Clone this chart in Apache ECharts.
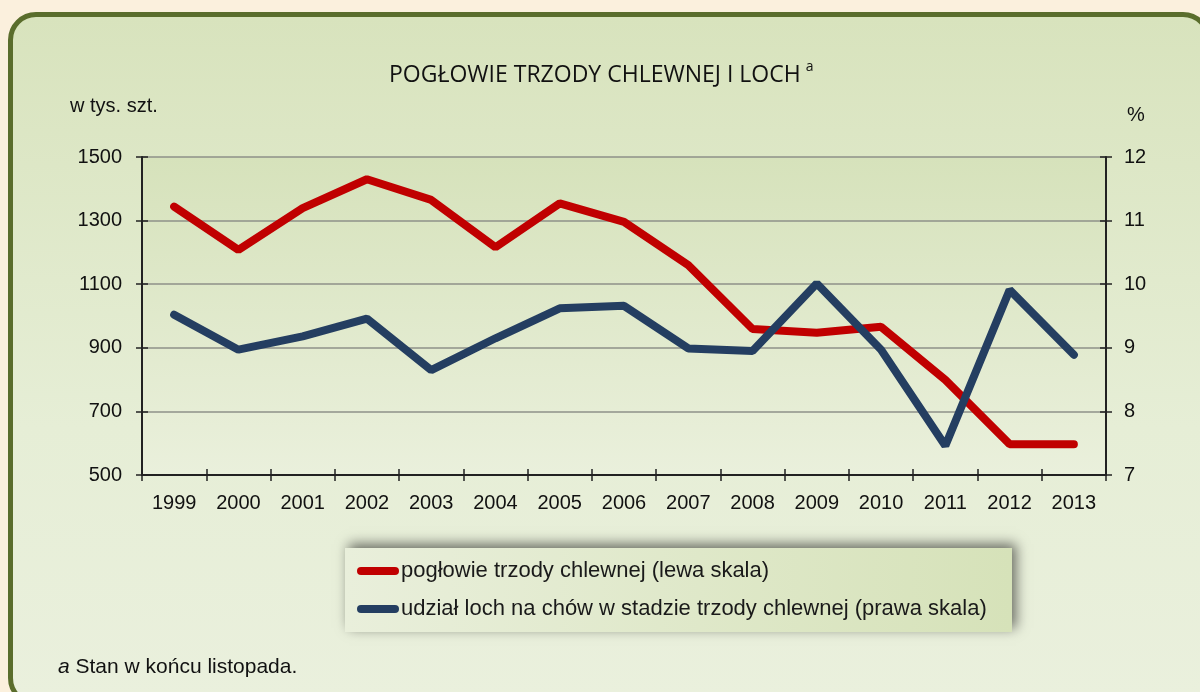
<!DOCTYPE html>
<html>
<head>
<meta charset="utf-8">
<script src="https://cdn.jsdelivr.net/npm/echarts@6/dist/echarts.min.js"></script>
<style>
  html, body { margin: 0; padding: 0; width: 1200px; height: 692px; overflow: hidden; background: #fbf0dd; }
  #panel {
    position: absolute; left: 8px; top: 12px; width: 1203px; height: 694px;
    box-sizing: border-box; border: 5px solid #5a6d2c; border-radius: 28px;
    background: linear-gradient(#d8e3bd, #e6eed6 60%, #eaf0dd);
  }
  #chart { position: absolute; left: 0; top: 0; width: 1200px; height: 692px; }
</style>
</head>
<body>
<div id="panel"></div>
<div id="chart"></div>
<script>
// lata
const years = ['1999', '2000', '2001', '2002', '2003', '2004', '2005', '2006', '2007', '2008', '2009', '2010', '2011', '2012', '2013']
// pogłowie trzody chlewnej, tys. szt. (lewa skala)
const poglowie = [1344, 1208, 1339, 1430, 1365, 1216, 1354, 1296, 1160, 959, 947, 966, 799, 597, 597]
// udział loch na chów, % (prawa skala)
const udzialLoch = [9.52, 8.97, 9.18, 9.46, 8.65, 9.15, 9.62, 9.66, 8.99, 8.95, 10.01, 8.97, 7.46, 9.91, 8.89]

const seriesNames = ['pogłowie trzody chlewnej (lewa skala)', 'udział loch na chów w stadzie trzody chlewnej (prawa skala)']

const font = 'Liberation Sans, Arial, sans-serif'
const legendIcon = 'path://M4,0 H38 A4,4 0 0 1 38,8 H4 A4,4 0 0 1 4,0 Z'

const chart = echarts.init(document.getElementById('chart'))

// oś pomocnicza - tylko kreski do środka (kreski przecinające oś)
function innerTicks(base) {
  return Object.assign({}, base, {
    axisLine: { show: false },
    axisLabel: { show: false },
    splitLine: { show: false },
    axisTick: { show: true, inside: true, interval: 0, length: 6, lineStyle: { color: '#222', width: 1.5 } }
  })
}

const yLeft = { type: 'value', position: 'left', min: 500, max: 1500, interval: 200 }
const yRight = { type: 'value', position: 'right', min: 7, max: 12, interval: 1 }
const xBase = { type: 'category', position: 'bottom', data: years, boundaryGap: true }

const labelStyle = { fontFamily: font, fontSize: 20, color: '#111' }

chart.setOption({
  animation: false,
  backgroundColor: 'transparent',
  title: {
    text: '{m|POGŁOWIE TRZODY CHLEWNEJ I LOCH} {s|a}',
    left: 384,
    top: 55,
    textStyle: {
      fontWeight: 'normal',
      rich: {
        m: { fontFamily: 'Open Sans', fontSize: 23, fontWeight: 'normal', color: '#111', lineHeight: 30 },
        s: { fontFamily: 'Open Sans', fontSize: 14, fontWeight: 'normal', color: '#111', verticalAlign: 'top', lineHeight: 15 }
      }
    }
  },
  grid: {
    left: 142,
    right: 94,
    top: 157,
    bottom: 217,
    show: true,
    borderWidth: 0,
    backgroundColor: new echarts.graphic.LinearGradient(0, 0, 0, 1, [
      { offset: 0, color: '#d6e2bb' },
      { offset: 1, color: '#eaf0dc' }
    ])
  },
  legend: {
    orient: 'vertical',
    left: 357,
    top: 560,
    padding: 0,
    itemWidth: 42,
    itemHeight: 8,
    itemGap: 16,
    z: 10,
    selectedMode: false,
    data: [
      { name: seriesNames[0], icon: legendIcon },
      { name: seriesNames[1], icon: legendIcon }
    ],
    textStyle: { fontFamily: font, fontSize: 22, color: '#1a1a1a', padding: [0, 0, 0, -3] }
  },
  graphic: [
    {
      type: 'rect',
      z: 1,
      shape: { x: 345, y: 548, width: 667, height: 84 },
      style: {
        fill: new echarts.graphic.LinearGradient(0, 0, 1, 0, [
          { offset: 0, color: '#e9efdb' },
          { offset: 1, color: '#d6e2b9' }
        ]),
        shadowBlur: 12,
        shadowColor: 'rgba(0,0,0,0.55)',
        shadowOffsetX: 4,
        shadowOffsetY: -4
      }
    },
    {
      type: 'text',
      left: 70,
      top: 96,
      style: { text: 'w tys. szt.', font: '20px ' + font, fill: '#111' }
    },
    {
      type: 'text',
      left: 1127,
      top: 105,
      style: { text: '%', font: '20px ' + font, fill: '#111' }
    },
    {
      type: 'text',
      left: 58,
      top: 657,
      style: {
        text: '{i|a} Stan w końcu listopada.',
        font: '21px ' + font,
        fill: '#111',
        rich: { i: { fontStyle: 'italic', fontFamily: font, fontSize: 21, fill: '#111' } }
      }
    }
  ],
  xAxis: [
    Object.assign({}, xBase, {
      axisLine: { lineStyle: { color: '#222', width: 2 } },
      axisTick: { show: true, interval: 0, length: 6, lineStyle: { color: '#222', width: 1.5 } },
      axisLabel: Object.assign({ interval: 0, margin: 18 }, labelStyle),
      splitLine: { show: false }
    }),
    innerTicks(xBase)
  ],
  yAxis: [
    Object.assign({}, yLeft, {
      axisLine: { show: true, lineStyle: { color: '#222', width: 2 } },
      axisTick: { show: true, length: 6, lineStyle: { color: '#222', width: 1.5 } },
      axisLabel: Object.assign({ margin: 20, formatter: v => String(v) }, labelStyle),
      splitLine: { show: true, lineStyle: { color: '#8e9089', width: 1.5 } }
    }),
    Object.assign({}, yRight, {
      axisLine: { show: true, lineStyle: { color: '#222', width: 2 } },
      axisTick: { show: true, length: 6, lineStyle: { color: '#222', width: 1.5 } },
      axisLabel: Object.assign({ margin: 18, formatter: v => String(v) }, labelStyle),
      splitLine: { show: false }
    }),
    innerTicks(yLeft),
    innerTicks(yRight)
  ],
  series: [
    {
      name: seriesNames[0],
      type: 'line',
      yAxisIndex: 0,
      data: poglowie,
      showSymbol: false,
      symbol: 'none',
      color: '#c00000',
      lineStyle: { color: '#c00000', width: 8, cap: 'round' }
    },
    {
      name: seriesNames[1],
      type: 'line',
      yAxisIndex: 1,
      data: udzialLoch,
      showSymbol: false,
      symbol: 'none',
      color: '#243e61',
      lineStyle: { color: '#243e61', width: 8, cap: 'round' }
    }
  ]
})
</script>
</body>
</html>
